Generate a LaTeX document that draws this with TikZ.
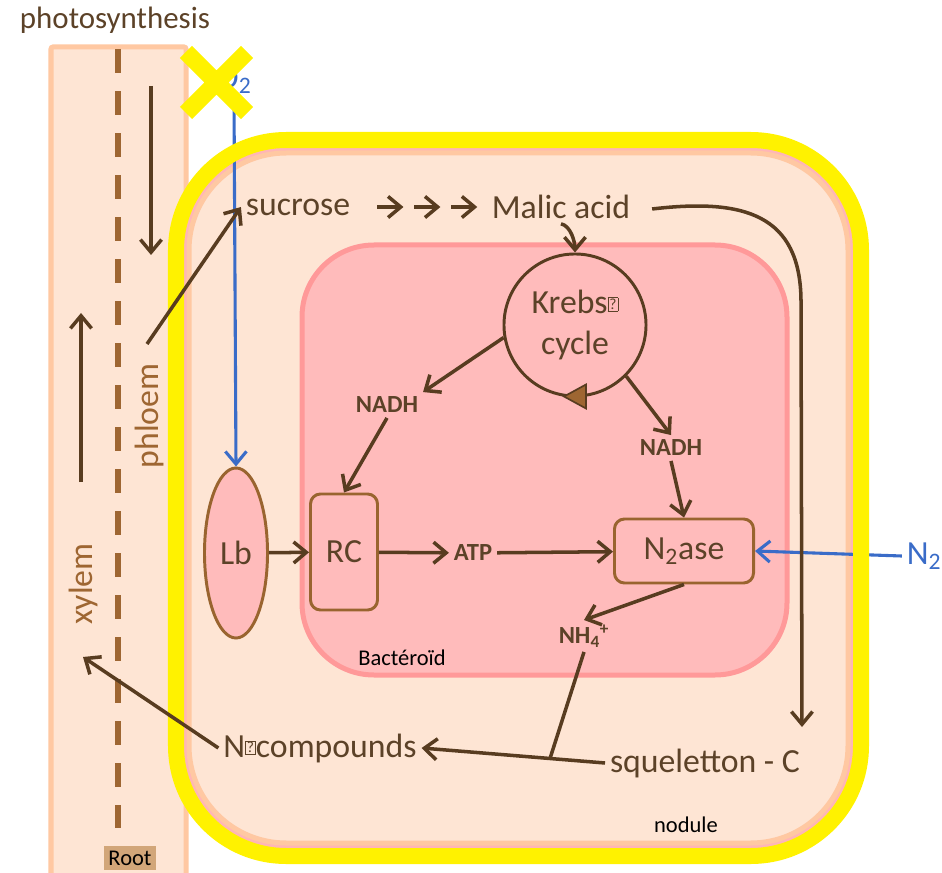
\documentclass[tikz,border=0pt]{standalone}
\usepackage{fontspec}
\setmainfont{Carlito}
\usetikzlibrary{arrows.meta,shapes.geometric,calc}

\definecolor{peach}{RGB}{254,229,212}
\definecolor{peachedge}{RGB}{255,200,162}
\definecolor{nodpink}{RGB}{255,182,182}
\definecolor{bactpink}{RGB}{255,187,187}
\definecolor{bactedge}{RGB}{255,153,153}
\definecolor{arrowbrown}{RGB}{88,60,32}
\definecolor{textbrown}{RGB}{92,66,40}
\definecolor{boxbrown}{RGB}{153,100,47}
\definecolor{dashbrown}{RGB}{158,102,50}
\definecolor{o2blue}{RGB}{58,108,200}
\definecolor{roottan}{RGB}{210,166,121}

% missing-glyph box as printed in the figure
\newcommand{\tofu}{\raisebox{0.12em}{\setlength{\fboxsep}{0.8pt}\setlength{\fboxrule}{0.5pt}\fbox{\fontsize{11}{11}\selectfont ?}}}

\tikzset{
  txt/.style={text=textbrown, font=\fontsize{24}{29}\selectfont},
  chem/.style={text=textbrown, font=\fontsize{17.5}{20}\selectfont\bfseries},
  sidetxt/.style={text=dashbrown, font=\fontsize{24}{29}\selectfont, rotate=90},
  tag/.style={text=black, font=\fontsize{16}{19}\selectfont},
  bluetxt/.style={text=o2blue, font=\fontsize{24}{29}\selectfont},
  enzbox/.style={txt, draw=boxbrown, fill=bactpink, line width=2.1pt, rounded corners=0.25cm},
  krebsring/.style={txt, circle, draw=arrowbrown, fill=bactpink, line width=2.1pt, minimum size=3.55cm, align=center, inner sep=0pt},
  lbshape/.style={txt, ellipse, draw=boxbrown, fill=bactpink, line width=2.1pt, minimum width=1.575cm, minimum height=4.25cm, inner sep=0pt},
  flow/.style={draw=arrowbrown, line width=2.5pt, -{Straight Barb[length=9pt, width=15pt]}},
  bareline/.style={draw=arrowbrown, line width=2.5pt},
  o2flow/.style={draw=o2blue, line width=2.2pt, -{Straight Barb[length=9pt, width=15pt]}},
}

\begin{document}
\begin{tikzpicture}[x=0.025cm, y=-0.025cm]
  \useasboundingbox (0,0) rectangle (942,873);

  % Root column
  \draw[fill=peach, draw=peachedge, line width=0.125cm, rounded corners=0.05cm] (51,47) rectangle (186,890);
  \draw[dashbrown, line width=0.15cm, dash pattern=on 0.6cm off 0.45cm] (118,49) -- (118,828);

  % Nodule and bacteroid
  \fill[nodpink, rounded corners=2.75cm] (176,140) rectangle (861,856);
  \draw[fill=peach, draw=peachedge, line width=0.125cm, rounded corners=2.43cm] (189,153) rectangle (848,843);
  \draw[fill=bactpink, draw=bactedge, line width=0.125cm, rounded corners=1.8cm] (302,245) rectangle (787,675);

  % Labels and boxes
  \node[txt, font=\fontsize{22}{26}\selectfont] (photo) at (115,20) {photosynthesis};
  \node[txt] (sucrose) at (298,207) {sucrose};
  \node[txt] (malic) at (561,207) {Malic acid};
  \node[krebsring] (krebs) at (575,325) {Krebs\tofu\\cycle};
  \node[chem] (nadhL) at (387,405) {NADH};
  \node[chem] (nadhR) at (671,448) {NADH};
  \node[lbshape] (lb) at (236,553) {Lb};
  \node[enzbox, minimum width=1.675cm, minimum height=2.9cm] (rc) at (344,552) {RC};
  \node[chem] (atp) at (473,553) {ATP};
  \node[enzbox, minimum width=3.475cm, minimum height=1.6cm] (nase) at (684,551) {N\textsubscript{2}ase};
  \node[chem] (nh4) at (584,636) {NH\textsubscript{4}\textsuperscript{+}};
  \node[txt] (squel) at (705,763) {squeletton - C};
  \node[txt] (ncomp) at (320,748) {N\tofu compounds};
  \node[tag] (bact) at (402,658) {Bactéroïd};
  \node[tag] (nodule) at (686,825) {nodule};
  \node[tag, fill=roottan, inner sep=3pt] (root) at (130,858) {Root};
  \node[sidetxt] (phloem) at (150,416) {phloem};
  \node[sidetxt] (xylem) at (84,584) {xylem};
  \node[bluetxt] (o2) at (234,80) {O\textsubscript{2}};
  \node[bluetxt] (n2) at (924,556) {N\textsubscript{2}};

  % Gas supply (under the nodule wall)
  \draw[o2flow] (o2.south) -- (lb.north);
  \draw[o2flow] (n2.west) -- (nase.east);

  % Nodule wall
  \draw[yellow, line width=0.4cm, rounded corners=2.75cm] (176,140) rectangle (861,856);

  % Krebs cycle turning tip
  \draw[fill=dashbrown, draw=arrowbrown, line width=1.2pt] ($(krebs.south)+(-11,-1)$) -- ++(22,-12) -- ++(0,24) -- cycle;

  % Sap flows
  \coordinate (phtop) at (151,86);
  \coordinate (phbot) at (151,255);
  \coordinate (xybot) at (81,482);
  \coordinate (xytop) at (81,313);
  \coordinate (phsrc) at (147,344);
  \coordinate (xydst) at (83,657);
  \coordinate (sqin) at (802,727);
  \draw[flow] (phtop) -- (phbot);
  \draw[flow] (xybot) -- (xytop);
  \draw[flow] (phsrc) -- (sucrose.west);

  % Carbon path
  \foreach \i in {0,1,2}
    \draw[flow] ($(sucrose.east)!{0.17+0.28*\i}!(malic.west)$) -- ++(26,0);
  \draw[flow] (malic.south) .. controls +(10,2) and +(0,-10) .. (krebs.north);
  \draw[flow] ($(malic.east)+(17,2)$) .. controls (745,198) and (800,215) .. (801,300) -- (sqin);
  \draw[flow] (krebs.190) -- (nadhL.north east);
  \draw[flow] (krebs.-45) -- (nadhR.north);
  \draw[flow] (nadhL.south) -- (rc.north);
  \draw[flow] (nadhR.south) -- (nase.north);

  % Energy and nitrogen path
  \draw[flow] (lb) -- (rc);
  \draw[flow] (rc) -- (atp);
  \draw[flow] (atp) -- (nase);
  \draw[flow] (nase.south) -- (nh4.north);
  \coordinate (join) at ($(squel.west)!0.3!(ncomp.east)$);
  \draw[bareline] (nh4.south) -- (join);
  \draw[flow] (squel.west) -- (ncomp.east);
  \draw[flow] (ncomp.west) -- (xydst);

  % Blocked O2 entry
  \draw[yellow, line width=0.425cm] (186,52) -- (247,113) (247,52) -- (186,113);
\end{tikzpicture}
\end{document}
